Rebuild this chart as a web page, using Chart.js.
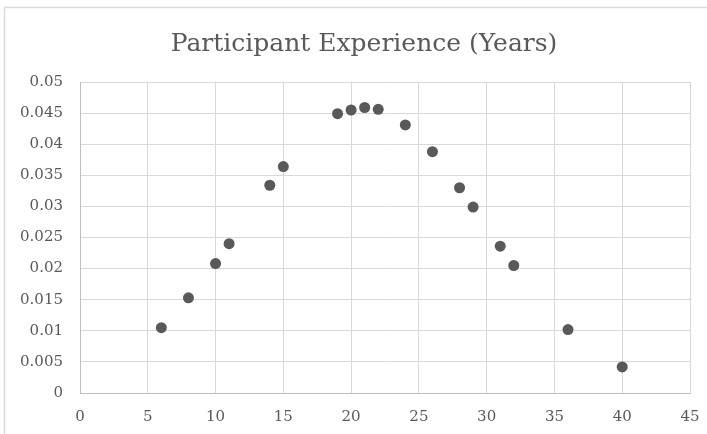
<!DOCTYPE html>
<html>
<head>
<meta charset="utf-8">
<script src="https://cdn.jsdelivr.net/npm/chart.js@4/dist/chart.umd.min.js"></script>
<style>
  html, body { margin: 0; padding: 0; background: #ffffff; }
  #wrap { width: 707px; height: 434px; position: relative; }
</style>
</head>
<body>
<div id="wrap"><canvas id="chart" width="707" height="434"></canvas></div>
<script>
// Years of experience and the share of participants at each value
const years = [6, 8, 10, 11, 14, 15, 19, 20, 21, 22, 24, 26, 28, 29, 31, 32, 36, 40];
const shares = [0.0105, 0.0153, 0.0208, 0.0240, 0.0334, 0.0364, 0.0449, 0.0455, 0.0459, 0.0456,
                0.0431, 0.0388, 0.0330, 0.0299, 0.0236, 0.0205, 0.0102, 0.0042];
const titleText = 'Participant Experience (Years)';
const xTicks = [0, 5, 10, 15, 20, 25, 30, 35, 40, 45];
const yTicks = [0, 0.005, 0.01, 0.015, 0.02, 0.025, 0.03, 0.035, 0.04, 0.045, 0.05];

const points = years.map((x, i) => ({ x: x, y: shares[i] }));

// white card with a thin light frame behind the chart
const framePlugin = {
  id: 'frame',
  beforeDraw(chart) {
    const ctx = chart.ctx;
    ctx.save();
    ctx.fillStyle = '#ffffff';
    ctx.fillRect(0, 0, chart.width, chart.height);
    ctx.strokeStyle = '#d9d9d9';
    ctx.lineWidth = 1.5;
    ctx.strokeRect(4.5, 7.5, chart.width + 20, chart.height + 20);
    ctx.restore();
  }
};

// chart heading, centred over the card
const headingPlugin = {
  id: 'heading',
  afterDraw(chart) {
    const ctx = chart.ctx;
    ctx.save();
    ctx.fillStyle = '#595959';
    ctx.font = '25px "DejaVu Serif", serif';
    ctx.textAlign = 'center';
    ctx.textBaseline = 'alphabetic';
    ctx.fillText(titleText, 364, 51);
    ctx.restore();
  }
};

const tickFont = { family: '"DejaVu Serif", serif', size: 15 };

new Chart(document.getElementById('chart'), {
  type: 'scatter',
  data: {
    datasets: [{
      data: points,
      backgroundColor: '#595959',
      borderColor: '#595959',
      pointRadius: 5.5,
      pointHoverRadius: 5.5,
      borderWidth: 0
    }]
  },
  options: {
    responsive: false,
    animation: false,
    layout: { padding: { left: 0, right: 17, top: 82, bottom: 0 } },
    plugins: {
      legend: { display: false },
      tooltip: { enabled: false },
      title: { display: false }
    },
    scales: {
      x: {
        type: 'linear',
        min: 0,
        max: 45,
        afterBuildTicks(scale) { scale.ticks = xTicks.map(v => ({ value: v })); },
        afterFit(scale) {
          scale.height = 41;
          scale.paddingLeft = 0;
          scale.paddingRight = 0;
        },
        grid: { color: '#d9d9d9', lineWidth: 1, drawTicks: false },
        border: { display: true, color: '#bfbfbf', width: 1 },
        ticks: { color: '#595959', font: tickFont, padding: 15, maxRotation: 0 }
      },
      y: {
        type: 'linear',
        min: 0,
        max: 0.05,
        afterBuildTicks(scale) { scale.ticks = yTicks.map(v => ({ value: v })); },
        afterFit(scale) {
          scale.width = 80;
          scale.paddingTop = 0;
          scale.paddingBottom = 0;
        },
        grid: { color: '#d9d9d9', lineWidth: 1, drawTicks: false },
        border: { display: true, color: '#bfbfbf', width: 1 },
        ticks: {
          color: '#595959',
          font: tickFont,
          padding: 17,
          callback: v => String(+v.toFixed(3))
        }
      }
    }
  },
  plugins: [framePlugin, headingPlugin]
});
</script>
</body>
</html>
